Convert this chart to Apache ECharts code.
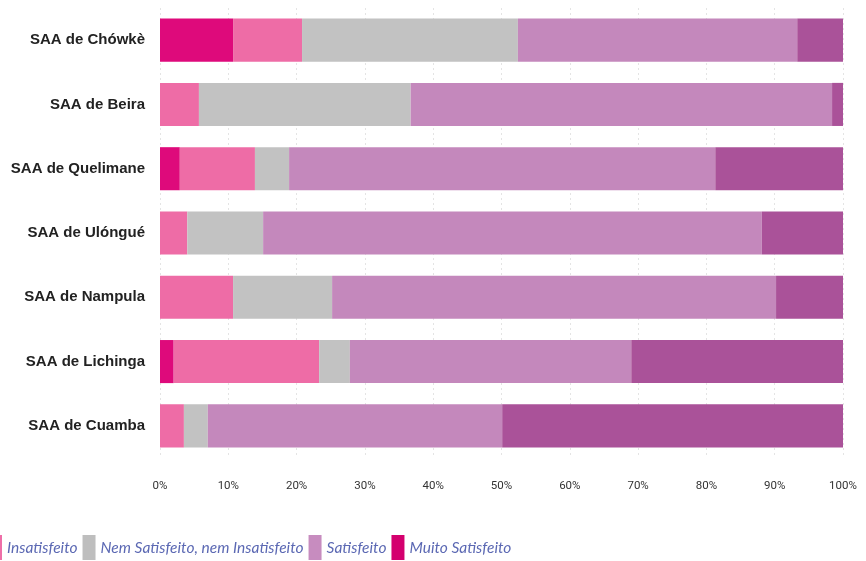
<!DOCTYPE html>
<html><head><meta charset="utf-8">
<script src="https://cdn.jsdelivr.net/npm/echarts@6/dist/echarts.min.js"></script>
<style>html,body{margin:0;padding:0;background:#fff}#c{width:866px;height:561px}</style>
</head><body><div id="c"></div>
<script>
const categories = ["SAA de Chówkè","SAA de Beira","SAA de Quelimane","SAA de Ulóngué","SAA de Nampula","SAA de Lichinga","SAA de Cuamba"];
const muitoInsatisfeito = [10.7, 0, 2.9, 0, 0, 2.0, 0];
const insatisfeito      = [10.1, 5.7, 11.0, 4.0, 10.7, 21.3, 3.5];
const nemNem            = [31.6, 31.0, 5.0, 11.1, 14.5, 4.5, 3.5];
const satisfeito        = [40.9, 61.7, 62.4, 73.0, 65.0, 41.2, 43.1];
const muitoSatisfeito   = [6.7, 1.6, 18.7, 11.9, 9.8, 31.0, 49.9];
const tickLabels = ["0%","10%","20%","30%","40%","50%","60%","70%","80%","90%","100%"];

const seriesDefs = [
  {name:"Muito Insatisfeito", data:muitoInsatisfeito, color:"#de0a7b"},
  {name:"Insatisfeito", data:insatisfeito, color:"#ee6ca6"},
  {name:"Nem Satisfeito, nem Insatisfeito", data:nemNem, color:"#c2c2c2"},
  {name:"Satisfeito", data:satisfeito, color:"#c488bc"},
  {name:"Muito Satisfeito", data:muitoSatisfeito, color:"#aa5299"}
];
const chart = echarts.init(document.getElementById('c'), null, {renderer:'canvas'});
chart.setOption({
  animation:false,
  grid:{left:160, right:23, top:8, height:450, containLabel:false},
  xAxis:{type:'value', min:0, max:100, interval:10,
    axisLine:{show:false}, axisTick:{show:false},
    splitLine:{show:true, lineStyle:{color:'#e4e4e4', type:[2,3], width:1}},
    axisLabel:{margin:22, color:'#333', fontSize:11.5, fontFamily:'Roboto',
      formatter:(v)=>tickLabels[Math.round(v/10)]}},
  yAxis:{type:'category', data:categories, inverse:true,
    axisLine:{show:false}, axisTick:{show:false},
    axisLabel:{margin:15, color:'#222', fontSize:15, fontWeight:'bold', fontFamily:'Liberation Sans'}},
  legend:{left:-16, top:530, icon:'rect', itemWidth:13, itemHeight:25, itemGap:5,
    textStyle:{color:'#5b68b3', fontSize:15.5, fontStyle:'italic', fontFamily:'Lato'},
    data:[
      {name:"Insatisfeito", itemStyle:{color:"#ee6fa8"}},
      {name:"Nem Satisfeito, nem Insatisfeito", itemStyle:{color:"#bebebe"}},
      {name:"Satisfeito", itemStyle:{color:"#c78cbf"}},
      {name:"Muito Satisfeito", itemStyle:{color:"#d4006e"}}
    ]},
  series: seriesDefs.map(s=>({name:s.name, type:'bar', stack:'t', data:s.data,
    barWidth:'67%', itemStyle:{color:s.color}}))
});
</script></body></html>
